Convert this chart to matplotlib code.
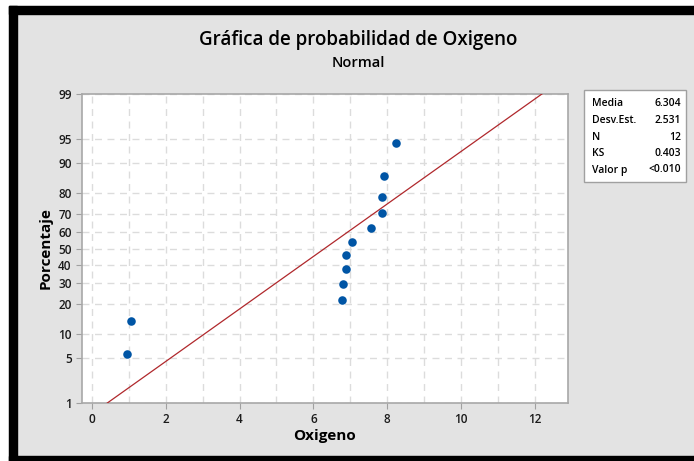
import numpy as np
import matplotlib
matplotlib.use("Agg")
import matplotlib.pyplot as plt
from matplotlib.patches import Rectangle
from statistics import NormalDist

# ---------------------------------------------------------------------------
# Datos
# ---------------------------------------------------------------------------
oxigeno = [0.95, 1.06, 6.77, 6.80, 6.88, 6.88, 7.06, 7.55, 7.86, 7.87, 7.92, 8.24]
media = 6.304
desv = 2.531
stats_labels = ["Media", "Desv.Est.", "N", "KS", "Valor p"]
stats_values = ["6.304", "2.531", "12", "0.403", "<0.010"]
y_ticks = [1, 5, 10, 20, 30, 40, 50, 60, 70, 80, 90, 95, 99]
x_ticks = [0, 2, 4, 6, 8, 10, 12]

nd = NormalDist()
_ppf = np.vectorize(lambda p: nd.inv_cdf(min(max(p, 1e-6), 100 - 1e-6) / 100), otypes=[float])
_cdf = np.vectorize(lambda z: nd.cdf(z) * 100, otypes=[float])


def forward(p):
    return _ppf(np.asarray(p, dtype=float))


def inverse(z):
    return _cdf(np.asarray(z, dtype=float))


plt.rcParams["font.family"] = ["Open Sans", "DejaVu Sans"]

W, H = 694, 461
fig = plt.figure(figsize=(W / 100, H / 100), dpi=100)
fig.patch.set_facecolor("white")

# fondo gris y marco negro
def px_rect(x0, y0, x1, y1, color):
    fig.patches.append(Rectangle((x0 / W, 1 - y1 / H), (x1 - x0) / W, (y1 - y0) / H,
                                 transform=fig.transFigure, color=color, zorder=-10))

px_rect(9, 6, W, H, "#E3E3E3")
px_rect(9, 6, W, 14, "black")
px_rect(9, 6, 17, H, "black")
px_rect(9, 456, W, H, "black")

ax = fig.add_axes([82 / W, 1 - 403 / H, (568 - 82) / W, (403 - 94) / H])
ax.set_facecolor("white")
ax.set_yscale("function", functions=(forward, inverse))
ax.set_ylim(1, 99)
ax.set_xlim(-0.27, 12.9)

# posiciones de los puntos (rangos medianos)
n = len(oxigeno)
pct = [(i + 1 - 0.3) / (n + 0.4) * 100 for i in range(n)]

# recta ajustada
x_line = np.linspace(-0.27, 12.9, 400)
y_line = inverse((x_line - media) / desv)
ax.plot(x_line, y_line, color="#B0282C", linewidth=0.9, zorder=3)

ax.scatter(sorted(oxigeno), pct, s=38, color="#0055A5", zorder=4, linewidths=0)

ax.set_yticks(y_ticks)
ax.set_yticklabels([str(t) for t in y_ticks])
ax.set_yticks([], minor=True)
ax.set_xticks(x_ticks)
ax.set_xticks(np.arange(0, 13, 1), minor=True)
ax.grid(True, which="both", axis="x", color="#DCDCDC", linestyle=(0, (5, 4)), linewidth=1)
ax.grid(True, which="major", axis="y", color="#DCDCDC", linestyle=(0, (5, 4)), linewidth=1)
ax.tick_params(axis="x", which="minor", length=0)
ax.tick_params(axis="both", which="major", length=4, color="#A0A0A0",
               labelsize=8.5, labelcolor="#1A1A1A")
for lbl in ax.get_xticklabels() + ax.get_yticklabels():
    lbl.set_fontweight("semibold")
for s in ax.spines.values():
    s.set_color("#A8A8A8")
    s.set_linewidth(1.2)

ax.set_xlabel("Oxigeno", fontsize=11, fontweight="bold", labelpad=2)
ax.set_ylabel("Porcentaje", fontsize=11, fontweight="bold", labelpad=4)

fig.text(358 / W, 1 - 40 / H, "Gráfica de probabilidad de Oxigeno", ha="center", va="center",
         fontsize=13.5, fontweight="semibold")
fig.text(358 / W, 1 - 63 / H, "Normal", ha="center", va="center",
         fontsize=10.5, fontweight="semibold")

# cuadro de estadísticos
fig.patches.append(Rectangle((584 / W, 1 - 182 / H), (686 - 584) / W, (182 - 90) / H,
                             transform=fig.transFigure, facecolor="white",
                             edgecolor="#A0A0A0", linewidth=1, zorder=1))
for i, (lab, val) in enumerate(zip(stats_labels, stats_values)):
    yy = 1 - (104 + i * 16.5) / H
    fig.text(592 / W, yy, lab, ha="left", va="center", fontsize=7.5,
             fontweight="semibold", zorder=2)
    fig.text(681 / W, yy, val, ha="right", va="center", fontsize=7.5,
             fontweight="semibold", zorder=2)

fig.savefig("out.png", dpi=100)
